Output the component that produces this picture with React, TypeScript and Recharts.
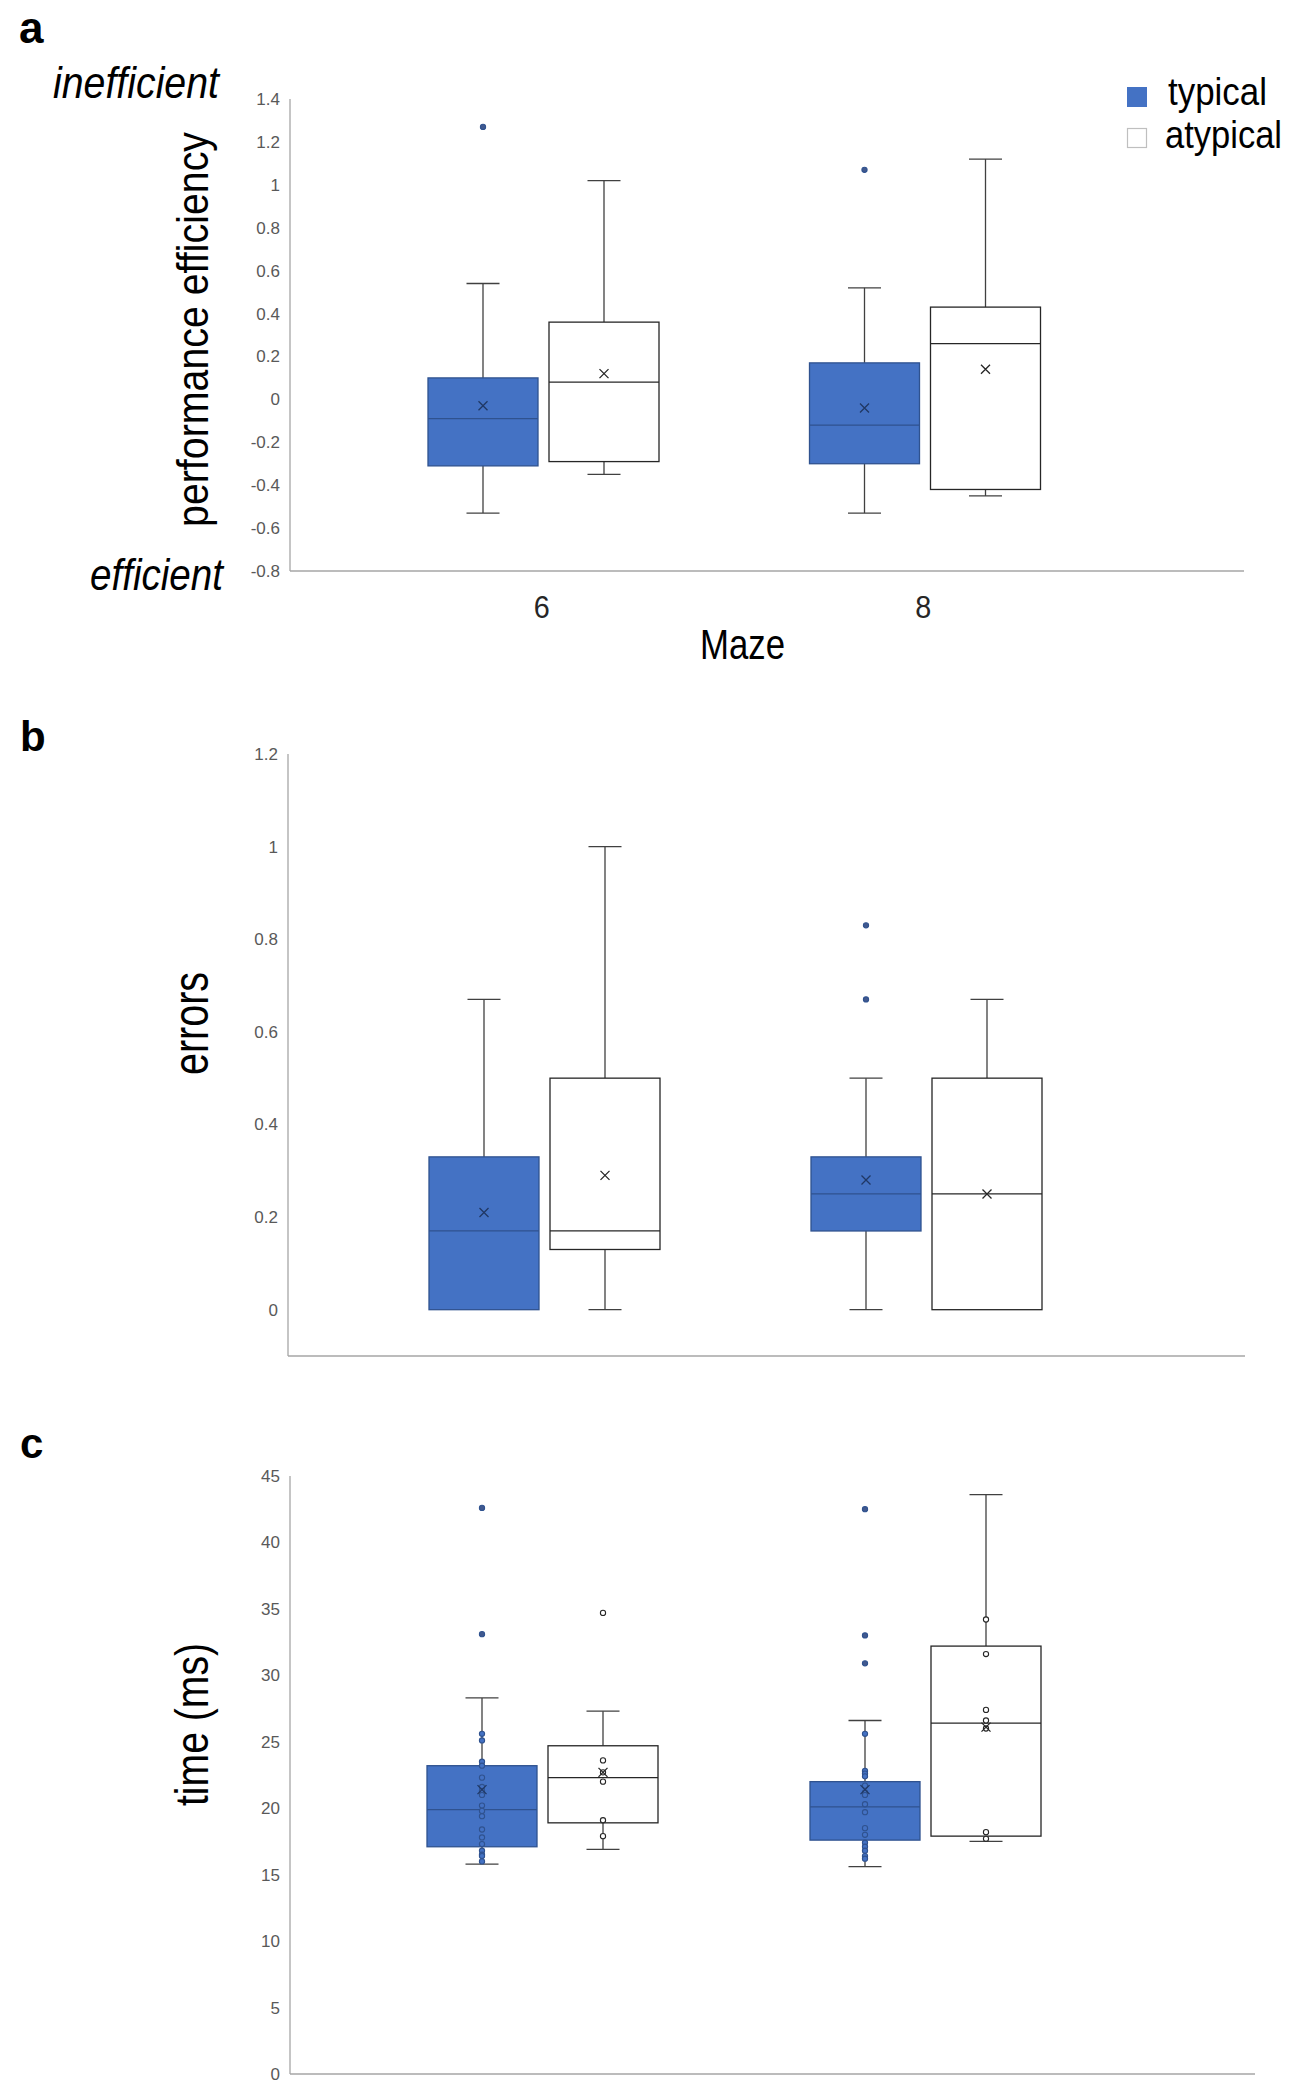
import React from 'react';
import { BarChart, Bar, XAxis, YAxis } from 'recharts';

type Box = {
  min: number;
  q1: number;
  median: number;
  q3: number;
  max: number;
  mean: number;
  outliers?: number[];
  points?: number[];
};

const mazes = ['6', '8'];

// (a) performance efficiency
const effTicks = [-0.8, -0.6, -0.4, -0.2, 0, 0.2, 0.4, 0.6, 0.8, 1, 1.2, 1.4];
const effTypical: Box[] = [
  { min: -0.53, q1: -0.31, median: -0.09, q3: 0.1, max: 0.54, mean: -0.03, outliers: [1.27] },
  { min: -0.53, q1: -0.3, median: -0.12, q3: 0.17, max: 0.52, mean: -0.04, outliers: [1.07] },
];
const effAtypical: Box[] = [
  { min: -0.35, q1: -0.29, median: 0.08, q3: 0.36, max: 1.02, mean: 0.12 },
  { min: -0.45, q1: -0.42, median: 0.26, q3: 0.43, max: 1.12, mean: 0.14 },
];

// (b) errors
const errTicks = [0, 0.2, 0.4, 0.6, 0.8, 1, 1.2];
const errTypical: Box[] = [
  { min: 0, q1: 0, median: 0.17, q3: 0.33, max: 0.67, mean: 0.21 },
  { min: 0, q1: 0.17, median: 0.25, q3: 0.33, max: 0.5, mean: 0.28, outliers: [0.83, 0.67] },
];
const errAtypical: Box[] = [
  { min: 0, q1: 0.13, median: 0.17, q3: 0.5, max: 1.0, mean: 0.29 },
  { min: 0, q1: 0, median: 0.25, q3: 0.5, max: 0.67, mean: 0.25 },
];

// (c) time (ms)
const timeTicks = [0, 5, 10, 15, 20, 25, 30, 35, 40, 45];
const timeTypical: Box[] = [
  {
    min: 15.8, q1: 17.1, median: 19.9, q3: 23.2, max: 28.3, mean: 21.4,
    outliers: [42.6, 33.1],
    points: [25.6, 25.1, 23.5, 23.2, 22.3, 21.6, 21.3, 21.0, 20.2, 19.8, 19.4, 18.4, 17.8, 17.3, 16.8, 16.5, 16.4, 16.0],
  },
  {
    min: 15.6, q1: 17.6, median: 20.1, q3: 22.0, max: 26.6, mean: 21.4,
    outliers: [42.5, 33.0, 30.9],
    points: [25.6, 22.8, 22.6, 22.4, 21.7, 21.2, 21.0, 20.3, 19.7, 18.5, 18.0, 17.4, 17.1, 16.8, 16.4, 16.2],
  },
];
const timeAtypical: Box[] = [
  {
    min: 16.9, q1: 18.9, median: 22.3, q3: 24.7, max: 27.3, mean: 22.7,
    outliers: [34.7],
    points: [23.6, 22.7, 22.0, 19.1, 17.9],
  },
  {
    min: 17.5, q1: 17.9, median: 26.4, q3: 32.2, max: 43.6, mean: 26.1,
    points: [34.2, 31.6, 27.4, 26.6, 26.0, 18.2, 17.7],
  },
];

const BLUE = '#4472C4';
const BLUE_EDGE = '#2F528F';
const INK = '#262626';
const WHISKER = '#404040';
const AXIS_GREY = '#A6A6A6';
const FONT = '"Liberation Sans", Arial, sans-serif';

const buildRows = (typical: Box[], atypical: Box[]) =>
  mazes.map((maze, i) => ({ maze, typical: typical[i], atypical: atypical[i] }));

// draws a whole box & whisker inside the range bar [min, max] that recharts hands us
const makeBoxShape = (group: 'typical' | 'atypical') => (props: any) => {
  const { x, y, width, height, payload } = props;
  const b: Box = payload[group];
  const top = Math.min(y, y + height);
  const bottom = Math.max(y, y + height);
  const k = (bottom - top) / (b.max - b.min);
  const py = (v: number) => bottom - (v - b.min) * k;
  const cx = x + width / 2;
  const cap = 16.5;
  const typ = group === 'typical';
  const edge = typ ? BLUE_EDGE : INK;
  const ym = py(b.mean);
  const m = 4.5;

  const dot = (v: number, key: string, filled: boolean) => (
    <circle
      key={key}
      cx={cx}
      cy={py(v)}
      r={2.6}
      fill={typ ? (filled ? '#41598F' : BLUE) : '#fff'}
      stroke={typ ? BLUE_EDGE : INK}
      strokeWidth={1.1}
    />
  );

  return (
    <g>
      <line x1={cx} x2={cx} y1={py(b.max)} y2={py(b.q3)} stroke={WHISKER} strokeWidth={1.3} />
      <line x1={cx - cap} x2={cx + cap} y1={py(b.max)} y2={py(b.max)} stroke={WHISKER} strokeWidth={1.3} />
      {b.min < b.q1 && (
        <>
          <line x1={cx} x2={cx} y1={py(b.q1)} y2={py(b.min)} stroke={WHISKER} strokeWidth={1.3} />
          <line x1={cx - cap} x2={cx + cap} y1={py(b.min)} y2={py(b.min)} stroke={WHISKER} strokeWidth={1.3} />
        </>
      )}
      <rect
        x={x}
        y={py(b.q3)}
        width={width}
        height={py(b.q1) - py(b.q3)}
        fill={typ ? BLUE : '#fff'}
        stroke={edge}
        strokeWidth={1.3}
      />
      <line x1={x} x2={x + width} y1={py(b.median)} y2={py(b.median)} stroke={edge} strokeWidth={1.3} />
      {(b.points || []).map((v, i) => dot(v, 'p' + i, false))}
      <path
        d={`M${cx - m},${ym - m}L${cx + m},${ym + m}M${cx + m},${ym - m}L${cx - m},${ym + m}`}
        stroke={typ ? '#203864' : INK}
        strokeWidth={1.3}
      />
      {(b.outliers || []).map((v, i) => dot(v, 'o' + i, true))}
    </g>
  );
};

const MazeTick = (props: any) => {
  const { x, y, payload } = props;
  return (
    <text x={x - 2} y={y + 47} textAnchor="middle" fontSize={32} fontFamily={FONT} fill={INK} textLength={16} lengthAdjust="spacingAndGlyphs">
      {payload.value}
    </text>
  );
};

type PanelProps = {
  top: number;
  height: number;
  margin: { top: number; right: number; bottom: number; left: number };
  padding: { left: number; right: number };
  domain: [number, number];
  ticks: number[];
  typical: Box[];
  atypical: Box[];
  showMaze?: boolean;
};

const Panel = ({ top, height, margin, padding, domain, ticks, typical, atypical, showMaze }: PanelProps) => {
  const rows = buildRows(typical, atypical);
  return (
    <div style={{ position: 'absolute', left: 0, top }}>
      <BarChart width={1308} height={height} data={rows} margin={margin} barGap={11} barSize={110}>
        <XAxis
          dataKey="maze"
          type="category"
          padding={padding}
          height={showMaze ? 60 : 1}
          axisLine={{ stroke: AXIS_GREY, strokeWidth: 1.3 }}
          tickLine={false}
          tickSize={0}
          tickMargin={0}
          tick={showMaze ? <MazeTick /> : false}
          interval={0}
        />
        <YAxis
          type="number"
          width={80}
          domain={domain}
          ticks={ticks}
          allowDataOverflow
          interval={0}
          axisLine={{ stroke: AXIS_GREY, strokeWidth: 1.3 }}
          tickLine={false}
          tickSize={0}
          tickMargin={10}
          tick={{ fill: '#595959', fontSize: 17, fontFamily: FONT }}
        />
        <Bar
          dataKey={(d: any) => [d.typical.min, d.typical.max]}
          barSize={110}
          shape={makeBoxShape('typical')}
          isAnimationActive={false}
        />
        <Bar
          dataKey={(d: any) => [d.atypical.min, d.atypical.max]}
          barSize={110}
          shape={makeBoxShape('atypical')}
          isAnimationActive={false}
        />
      </BarChart>
    </div>
  );
};

const titleStyle = { fontFamily: FONT, fill: '#000' };

export default function App() {
  return (
    <div style={{ position: 'relative', width: 1308, height: 2100, background: '#fff' }}>
      <style>{'body{margin:0}'}</style>
      <Panel
        top={0}
        height={680}
        margin={{ top: 99, right: 64, bottom: 49, left: 210 }}
        padding={{ left: 63, right: 128 }}
        domain={[-0.8, 1.4]}
        ticks={effTicks}
        typical={effTypical}
        atypical={effAtypical}
        showMaze
      />
      <Panel
        top={680}
        height={720}
        margin={{ top: 74, right: 63, bottom: 43, left: 208 }}
        padding={{ left: 65, right: 128 }}
        domain={[-0.1, 1.2]}
        ticks={errTicks}
        typical={errTypical}
        atypical={errAtypical}
      />
      <Panel
        top={1400}
        height={700}
        margin={{ top: 76, right: 53, bottom: 25, left: 210 }}
        padding={{ left: 61, right: 138 }}
        domain={[0, 45]}
        ticks={timeTicks}
        typical={timeTypical}
        atypical={timeAtypical}
      />
      <svg width={1308} height={2100} style={{ position: 'absolute', left: 0, top: 0, pointerEvents: 'none' }}>
        <text x={19} y={43} fontSize={44} fontWeight="bold" {...titleStyle}>a</text>
        <text x={20} y={751} fontSize={42} fontWeight="bold" {...titleStyle}>b</text>
        <text x={20} y={1458} fontSize={42} fontWeight="bold" {...titleStyle}>c</text>

        <text x={53} y={98} fontSize={44} fontStyle="italic" textLength={166} lengthAdjust="spacingAndGlyphs" {...titleStyle}>inefficient</text>
        <text x={90} y={590} fontSize={44} fontStyle="italic" textLength={133} lengthAdjust="spacingAndGlyphs" {...titleStyle}>efficient</text>

        <text transform="translate(208,329.5) rotate(-90)" textAnchor="middle" fontSize={44} textLength={395} lengthAdjust="spacingAndGlyphs" {...titleStyle}>performance efficiency</text>
        <text transform="translate(208,1023.5) rotate(-90)" textAnchor="middle" fontSize={50} textLength={103} lengthAdjust="spacingAndGlyphs" {...titleStyle}>errors</text>
        <text transform="translate(208,1724.5) rotate(-90)" textAnchor="middle" fontSize={46} textLength={163} lengthAdjust="spacingAndGlyphs" {...titleStyle}>time (ms)</text>

        <text x={700} y={659} fontSize={42} textLength={85} lengthAdjust="spacingAndGlyphs" {...titleStyle}>Maze</text>

        <rect x={1127} y={87} width={20} height={20} fill={BLUE} />
        <text x={1168} y={105} fontSize={38} textLength={99} lengthAdjust="spacingAndGlyphs" {...titleStyle}>typical</text>
        <rect x={1127.5} y={128.5} width={19} height={19} fill="#fff" stroke="#BFBFBF" strokeWidth={1.2} />
        <text x={1165} y={148} fontSize={38} textLength={117} lengthAdjust="spacingAndGlyphs" {...titleStyle}>atypical</text>
      </svg>
    </div>
  );
}
